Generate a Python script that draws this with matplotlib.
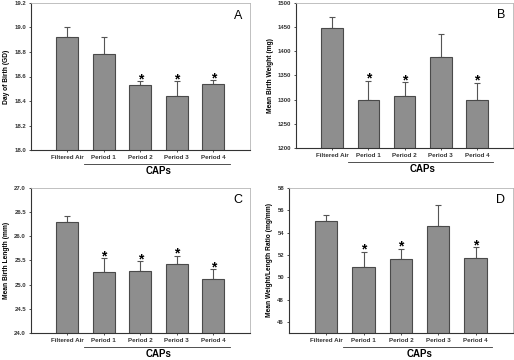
import matplotlib
matplotlib.use("Agg")
import matplotlib.pyplot as plt
import numpy as np

plt.rcParams["font.family"] = ["Liberation Sans", "DejaVu Sans"]

categories = ["Filtered Air", "Period 1", "Period 2", "Period 3", "Period 4"]

gd_mean = [18.92, 18.78, 18.53, 18.44, 18.54]
gd_err = [0.08, 0.14, 0.03, 0.12, 0.03]
gd_sig = [False, False, True, True, True]

bw_mean = [1449, 1299, 1307, 1388, 1300]
bw_err = [22, 40, 29, 48, 35]
bw_sig = [False, True, True, False, True]

bl_mean = [26.30, 25.26, 25.28, 25.42, 25.11]
bl_err = [0.11, 0.29, 0.20, 0.18, 0.21]
bl_sig = [False, True, True, True, True]

wl_mean = [55.0, 50.93, 51.65, 54.6, 51.7]
wl_err = [0.6, 1.35, 0.9, 1.85, 1.0]
wl_sig = [False, True, True, False, True]

panels = [
    dict(mean=gd_mean, err=gd_err, sig=gd_sig, ylim=(18.0, 19.2), ticks=np.arange(18.0, 19.21, 0.2),
         fmt="{:.1f}", ylabel="Day of Birth (GD)", letter="A", pos=[0.060, 0.583, 0.426, 0.409]),
    dict(mean=bw_mean, err=bw_err, sig=bw_sig, ylim=(1200, 1500), ticks=np.arange(1200, 1501, 50),
         fmt="{:.0f}", ylabel="Mean Birth Weight (mg)", letter="B", pos=[0.576, 0.589, 0.422, 0.403]),
    dict(mean=bl_mean, err=bl_err, sig=bl_sig, ylim=(24.0, 27.0), ticks=np.arange(24.0, 27.01, 0.5),
         fmt="{:.1f}", ylabel="Mean Birth Length (mm)", letter="C", pos=[0.060, 0.075, 0.426, 0.403]),
    dict(mean=wl_mean, err=wl_err, sig=wl_sig, ylim=(45, 58), ticks=np.arange(46, 58.1, 2),
         fmt="{:.0f}", ylabel="Mean Weight/Length Ratio (mg/mm)", letter="D", pos=[0.562, 0.075, 0.436, 0.403]),
]

fig = plt.figure(figsize=(5.14, 3.6), dpi=100)
bar_color = "#8e8e8e"
edge_color = "#4a4a4a"
x = np.arange(len(categories))

for p in panels:
    ax = fig.add_axes(p["pos"])
    ax.bar(x, p["mean"], width=0.6, color=bar_color, edgecolor=edge_color, linewidth=0.8, zorder=2)
    ax.errorbar(x, p["mean"], yerr=[np.zeros(len(x)), p["err"]], fmt="none",
                ecolor="#555555", elinewidth=0.8, capsize=2.5, capthick=0.8, zorder=1)
    span = p["ylim"][1] - p["ylim"][0]
    for xi, m, e, s in zip(x, p["mean"], p["err"], p["sig"]):
        if s:
            ax.text(xi, m + e - span * 0.035, "*", ha="center", va="bottom",
                    fontsize=10, fontweight="bold", color="black")
    ax.set_xlim(-1, 5)
    ax.set_ylim(*p["ylim"])
    ax.set_yticks(p["ticks"])
    ax.set_yticklabels([p["fmt"].format(t) for t in p["ticks"]], fontsize=4.3, fontweight="bold")
    ax.set_xticks(x)
    ax.set_xticklabels(categories, fontsize=4.5, fontweight="bold")
    ax.tick_params(axis="both", length=1.5, width=0.6, pad=2, colors="#333333")
    ax.tick_params(axis="y", direction="out")
    ax.set_ylabel(p["ylabel"], fontsize=4.8, fontweight="bold", labelpad=3)
    for side in ["left", "bottom"]:
        ax.spines[side].set_color("#333333")
        ax.spines[side].set_linewidth(0.8)
    for side in ["top", "right"]:
        ax.spines[side].set_color("#b5b5b5")
        ax.spines[side].set_linewidth(0.6)
    ax.text(0.965, 0.955, p["letter"], transform=ax.transAxes, ha="right", va="top", fontsize=9)
    # CAPs bracket line and label
    ax.plot([0.45, 4.45], [-0.095, -0.095], transform=ax.get_xaxis_transform(),
            color="#333333", linewidth=0.6, clip_on=False)
    ax.text(2.5, -0.11, "CAPs", transform=ax.get_xaxis_transform(), ha="center", va="top",
            fontsize=7, fontweight="bold")

fig.savefig("out.png", dpi=100)
